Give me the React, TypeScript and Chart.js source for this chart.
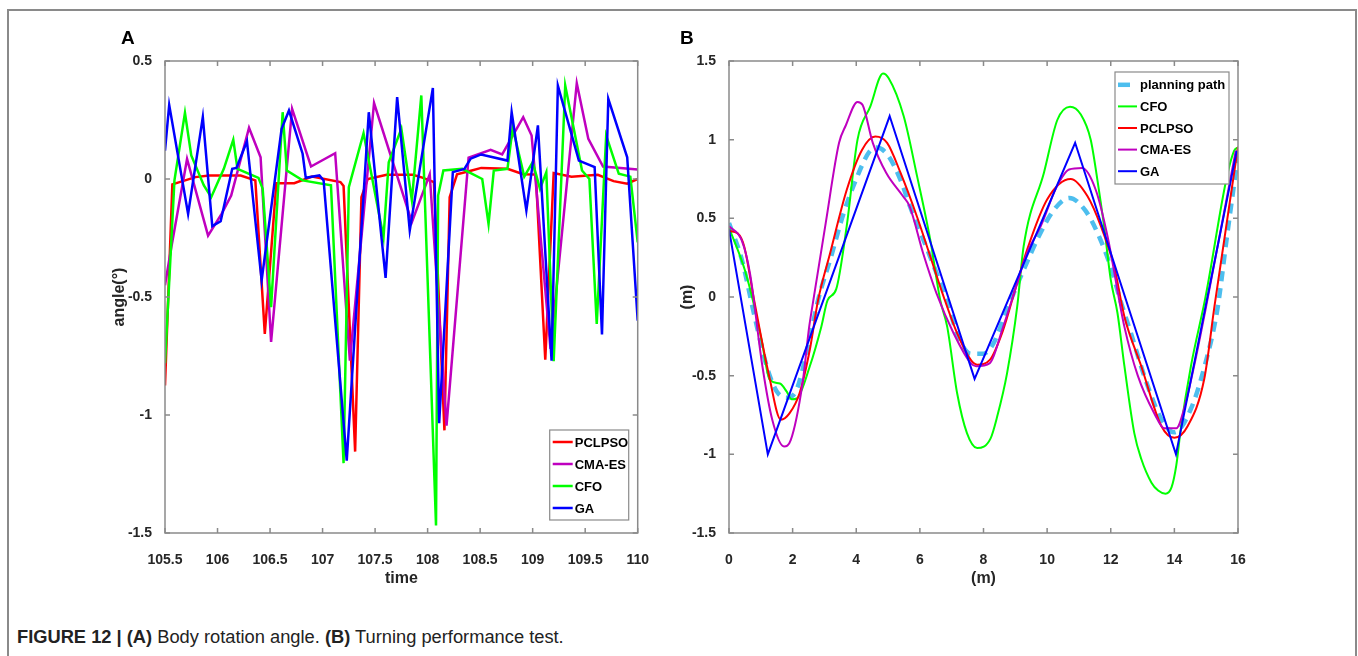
import React, { useEffect, useRef } from "react";
import { Chart, registerables } from "chart.js";

Chart.register(...registerables);

const SANS = "'Liberation Sans', Arial, Helvetica, sans-serif";

const RED = "#ff0000";
const MAGENTA = "#bf00bf";
const GREEN = "#00ff00";
const BLUE = "#0000ff";
const SKY = "#4dbeee";
const FRAME = "#8a8a8a";
const TEXT = "#262626";

// ---------- Panel A : body rotation angle ----------
const xTicksA = [105.5, 106, 106.5, 107, 107.5, 108, 108.5, 109, 109.5, 110];
const yTicksA = [0.5, 0, -0.5, -1, -1.5];

const pclpsoT = [105.5, 105.57, 105.79, 105.92, 106.22, 106.36, 106.45, 106.56, 106.73, 106.9, 107.17, 107.2, 107.31, 107.37, 107.43, 107.61, 107.86, 107.95, 108.06, 108.16, 108.21, 108.28, 108.42, 108.51, 108.76, 108.91, 109.03, 109.12, 109.2, 109.37, 109.62, 109.77, 109.9, 110];
const pclpsoV = [-0.875, -0.023, 0.008, 0.015, 0.015, -0.006, -0.656, -0.018, -0.018, 0.01, -0.013, -0.03, -1.155, -0.077, 0, 0.018, 0.018, 0.006, -0.013, -1.065, -0.077, 0.02, 0.036, 0.047, 0.043, 0.02, 0.019, -0.766, 0.025, 0.01, 0.018, -0.009, -0.02, 0];

const cmaesT = [105.5, 105.56, 105.71, 105.91, 106.04, 106.13, 106.3, 106.41, 106.51, 106.71, 106.89, 107.12, 107.26, 107.49, 107.85, 108.02, 108.18, 108.39, 108.6, 108.71, 108.91, 108.99, 109.17, 109.42, 109.53, 109.67, 110];
const cmaesV = [-0.45, -0.29, 0.085, -0.24, -0.147, -0.07, 0.217, 0.092, -0.69, 0.297, 0.053, 0.109, -0.77, 0.322, -0.183, 0.02, -1.045, 0.09, 0.124, 0.104, 0.262, 0.184, -0.72, 0.406, 0.17, 0.053, 0.04];

const cfoT = [105.5, 105.59, 105.69, 105.75, 105.87, 105.94, 106.01, 106.06, 106.15, 106.19, 106.39, 106.43, 106.51, 106.62, 106.66, 106.81, 107.08, 107.2, 107.25, 107.39, 107.58, 107.63, 107.75, 107.85, 107.94, 108.08, 108.1, 108.15, 108.33, 108.52, 108.58, 108.63, 108.76, 108.81, 108.92, 109.0, 109.07, 109.13, 109.2, 109.31, 109.47, 109.54, 109.61, 109.7, 109.82, 109.93, 110];
const cfoV = [-0.78, -0.006, 0.28, 0.1, -0.027, -0.077, -0.006, 0.043, 0.166, 0.043, 0.005, -0.042, -0.543, 0.283, 0.036, -0.006, -0.027, -1.204, -0.035, 0.194, -0.247, 0.071, 0.213, -0.09, 0.354, -1.468, -0.07, 0.036, 0.043, 0, -0.19, 0.036, 0.043, 0.217, 0.01, 0.071, -0.042, 0.029, -0.772, 0.396, 0.036, 0, -0.614, 0.184, 0.022, 0.01, -0.268];

const gaT = [105.5, 105.54, 105.72, 105.86, 105.95, 106.03, 106.14, 106.18, 106.28, 106.42, 106.61, 106.68, 106.81, 106.84, 106.97, 107.01, 107.23, 107.44, 107.6, 107.71, 107.83, 108.05, 108.11, 108.24, 108.35, 108.41, 108.51, 108.76, 108.8, 108.94, 109.05, 109.18, 109.24, 109.44, 109.59, 109.66, 109.72, 109.9, 110];
const gaV = [0.12, 0.314, -0.148, 0.262, -0.2, -0.179, 0.043, 0.047, 0.16, -0.43, 0.213, 0.29, 0.107, 0.005, 0.015, -0.006, -1.193, 0.283, -0.419, 0.347, -0.218, 0.386, -1.035, 0.029, 0.043, 0.086, 0.104, 0.078, 0.283, -0.133, 0.227, -0.77, 0.396, 0.078, 0.05, -0.659, 0.34, 0.092, -0.6];

// ---------- Panel B : turning performance ----------
const xTicksB = [0, 2, 4, 6, 8, 10, 12, 14, 16];
const yTicksB = [1.5, 1, 0.5, 0, -0.5, -1, -1.5];

const planX = [0, 0.4, 0.8, 1.2, 1.5, 1.8, 2.1, 2.5, 2.8, 3.2, 3.6, 4.0, 4.4, 4.65, 5.0, 5.4, 5.7, 6.1, 6.45, 6.85, 7.2, 7.6, 8.0, 8.3, 8.7, 9.0, 9.3, 9.7, 10.2, 10.7, 11.2, 11.6, 12.0, 12.3, 12.65, 13.1, 13.6, 14.0, 14.5, 14.95, 15.35, 15.65, 16.0];
const planY = [0.47, 0.24, -0.12, -0.45, -0.6, -0.64, -0.6, -0.3, -0.02, 0.25, 0.53, 0.75, 0.92, 0.95, 0.9, 0.74, 0.57, 0.37, 0.19, -0.02, -0.25, -0.36, -0.36, -0.3, -0.1, 0.05, 0.19, 0.37, 0.55, 0.63, 0.55, 0.4, 0.19, -0.02, -0.24, -0.53, -0.78, -0.86, -0.72, -0.44, -0.08, 0.38, 0.9];

const cfoX = [0, 0.35, 0.5, 0.75, 1.02, 1.28, 1.6, 1.81, 1.97, 2.13, 2.54, 2.9, 3.1, 3.37, 3.7, 4.04, 4.44, 4.84, 5.02, 5.49, 5.91, 6.33, 6.64, 6.86, 7.17, 7.48, 7.8, 8.22, 8.43, 8.74, 9.06, 9.26, 9.9, 10.32, 10.72, 11.06, 11.37, 11.58, 11.79, 12.0, 12.21, 12.43, 12.74, 12.96, 13.28, 13.49, 13.72, 13.91, 14.06, 14.2, 14.52, 14.94, 15.88, 16.0];
const cfoY = [0.44, 0.26, 0.17, -0.02, -0.27, -0.525, -0.55, -0.6, -0.65, -0.645, -0.44, -0.19, -0.02, 0.05, 0.45, 1.0, 1.21, 1.42, 1.39, 1.15, 0.77, 0.36, -0.02, -0.19, -0.61, -0.865, -0.96, -0.9, -0.76, -0.485, -0.06, 0.32, 0.79, 1.125, 1.21, 1.16, 1.0, 0.745, 0.45, 0.11, -0.1, -0.44, -0.865, -1.03, -1.18, -1.23, -1.25, -1.21, -1.07, -0.84, -0.44, -0.04, 0.93, 0.95];

const pclX = [0, 0.27, 0.48, 0.79, 1.26, 1.63, 1.9, 2.22, 2.54, 2.8, 3.18, 3.7, 4.18, 4.6, 4.97, 5.39, 5.91, 6.33, 6.75, 7.17, 7.6, 7.8, 8.2, 8.6, 9.0, 9.37, 10.0, 10.74, 11.27, 11.69, 12.11, 12.43, 12.96, 13.59, 14.0, 14.42, 14.94, 15.26, 16.0];
const pclY = [0.42, 0.405, 0.32, -0.02, -0.5, -0.78, -0.74, -0.61, -0.335, -0.02, 0.28, 0.68, 0.935, 1.02, 0.98, 0.79, 0.51, 0.256, 0.0, -0.23, -0.4, -0.43, -0.4, -0.22, 0.05, 0.3, 0.62, 0.75, 0.64, 0.45, 0.19, -0.125, -0.44, -0.82, -0.895, -0.82, -0.52, -0.06, 0.955];

const cmaX = [0, 0.4, 0.66, 1.05, 1.36, 1.73, 1.94, 2.31, 2.52, 2.62, 3.04, 3.46, 3.67, 4.04, 4.2, 4.52, 4.94, 5.47, 5.68, 6.1, 6.52, 7.06, 7.6, 7.77, 8.2, 8.6, 9.0, 9.37, 9.8, 10.3, 10.69, 11.1, 11.53, 11.9, 12.43, 12.85, 13.37, 13.69, 14.06, 14.32, 14.64, 14.96, 15.93];
const cmaY = [0.45, 0.36, 0.15, -0.44, -0.78, -0.95, -0.91, -0.55, -0.19, -0.06, 0.47, 0.98, 1.09, 1.24, 1.22, 0.98, 0.79, 0.64, 0.575, 0.28, 0.025, -0.23, -0.42, -0.44, -0.42, -0.2, 0.05, 0.28, 0.45, 0.7, 0.81, 0.82, 0.68, 0.385, -0.19, -0.5, -0.74, -0.835, -0.835, -0.7, -0.42, -0.1, 0.93];

const gaX = [0, 1.22, 5.05, 7.72, 10.88, 14.05, 15.96];
const gaY = [0.43, -1.0, 1.15, -0.52, 0.98, -1.0, 0.93];

const xy = (xs: number[], ys: number[]) => xs.map((x, i) => ({ x, y: ys[i] }));

const framePlugin = {
  id: "matlabFrame",
  afterDatasetsDraw(chart: any, _args: any, opts: any) {
    const { ctx, chartArea: a, scales } = chart;
    ctx.save();
    ctx.strokeStyle = opts.color;
    ctx.lineWidth = opts.width;
    ctx.strokeRect(a.left, a.top, a.right - a.left, a.bottom - a.top);
    const L = opts.tick;
    ctx.beginPath();
    scales.x.ticks.forEach((t: any) => {
      const p = scales.x.getPixelForValue(t.value);
      ctx.moveTo(p, a.bottom);
      ctx.lineTo(p, a.bottom - L);
      ctx.moveTo(p, a.top);
      ctx.lineTo(p, a.top + L);
    });
    scales.y.ticks.forEach((t: any) => {
      const p = scales.y.getPixelForValue(t.value);
      ctx.moveTo(a.left, p);
      ctx.lineTo(a.left + L, p);
      ctx.moveTo(a.right, p);
      ctx.lineTo(a.right - L, p);
    });
    ctx.stroke();
    ctx.restore();
  },
};

const boxLegendPlugin = {
  id: "boxLegend",
  afterDraw(chart: any, _args: any, opts: any) {
    const { ctx, chartArea: a } = chart;
    const ds = chart.data.datasets;
    const order: number[] = opts.order;
    const h = opts.rowH * order.length + opts.padY * 2;
    const left = a.right - opts.right - opts.width;
    const top = opts.top != null ? a.top + opts.top : a.bottom - opts.bottom - h;
    ctx.save();
    ctx.fillStyle = "#ffffff";
    ctx.fillRect(left, top, opts.width, h);
    ctx.strokeStyle = FRAME;
    ctx.lineWidth = 1.2;
    ctx.strokeRect(left, top, opts.width, h);
    ctx.font = opts.font;
    ctx.textBaseline = "middle";
    ctx.textAlign = "left";
    order.forEach((idx, i) => {
      const d = ds[idx];
      const y = top + opts.padY + opts.rowH * (i + 0.5);
      ctx.strokeStyle = d.borderColor;
      ctx.lineWidth = d.borderWidth;
      ctx.setLineDash(d.legendDash || []);
      ctx.beginPath();
      ctx.moveTo(left + opts.sampleX0, y);
      ctx.lineTo(left + opts.sampleX1, y);
      ctx.stroke();
      ctx.setLineDash([]);
      ctx.fillStyle = "#000000";
      ctx.fillText(d.label, left + opts.textX, y + 1);
    });
    ctx.restore();
  },
};

const tickFont = { family: SANS, size: 14, weight: "bold" as const };
const titleFont = { family: SANS, size: 16, weight: "bold" as const, lineHeight: 1.2 };

function axes(xTicks: number[], yTicks: number[], yWidth: number, yTitlePad: number, xTitle: string, yTitle: string) {
  return {
    x: {
      type: "linear",
      min: xTicks[0],
      max: xTicks[xTicks.length - 1],
      afterBuildTicks: (s: any) => { s.ticks = xTicks.map((v) => ({ value: v })); },
      afterFit: (s: any) => { s.height = 57; },
      grid: { display: false },
      border: { display: false },
      ticks: { autoSkip: false, maxRotation: 0, padding: 11, color: TEXT, font: tickFont, callback: (v: any) => String(v) },
      title: { display: true, text: xTitle, color: TEXT, font: titleFont, padding: { top: 0, bottom: 2 } },
    },
    y: {
      type: "linear",
      min: yTicks[yTicks.length - 1],
      max: yTicks[0],
      afterBuildTicks: (s: any) => { s.ticks = yTicks.slice().reverse().map((v) => ({ value: v })); },
      afterFit: (s: any) => { s.width = yWidth; },
      grid: { display: false },
      border: { display: false },
      ticks: { autoSkip: false, padding: 5, color: TEXT, font: tickFont, callback: (v: any) => String(v) },
      title: { display: true, text: yTitle, color: TEXT, font: titleFont, padding: { top: yTitlePad, bottom: 0 } },
    },
  };
}

function configA(): any {
  const line = (label: string, xs: number[], ys: number[], color: string, order: number) => ({
    label, data: xy(xs, ys), borderColor: color, backgroundColor: color, borderWidth: 2.5,
    pointRadius: 0, tension: 0, fill: false, order,
  });
  return {
    type: "line",
    data: {
      datasets: [
        line("PCLPSO", pclpsoT, pclpsoV, RED, 3),
        line("CMA-ES", cmaesT, cmaesV, MAGENTA, 2),
        line("CFO", cfoT, cfoV, GREEN, 1),
        line("GA", gaT, gaV, BLUE, 0),
      ],
    },
    options: {
      animation: false,
      responsive: false,
      events: [],
      layout: { padding: { left: 106, top: 61, right: 9, bottom: 10 } },
      plugins: {
        legend: { display: false },
        tooltip: { enabled: false },
        matlabFrame: { color: FRAME, width: 1.5, tick: 5 },
        boxLegend: {
          order: [0, 1, 2, 3], right: 9, bottom: 13, width: 79, rowH: 22, padY: 1,
          sampleX0: 3, sampleX1: 23, textX: 25, font: `bold 13px ${SANS}`,
        },
      },
      scales: axes(xTicksA, yTicksA, 59, 4, "time", "angle(°)"),
    },
    plugins: [framePlugin, boxLegendPlugin],
  };
}

function configB(): any {
  const line = (label: string, xs: number[], ys: number[], color: string, order: number, width = 2) => ({
    label, data: xy(xs, ys), borderColor: color, backgroundColor: color, borderWidth: width,
    pointRadius: 0, cubicInterpolationMode: "monotone", fill: false, order,
  });
  const plan: any = line("planning path", planX, planY, SKY, 4, 4.5);
  plan.borderDash = [10, 7];
  plan.legendDash = [12, 30];
  const ga: any = line("GA", gaX, gaY, BLUE, 0);
  ga.cubicInterpolationMode = "default";
  ga.tension = 0;
  return {
    type: "line",
    data: {
      datasets: [
        plan,
        line("CFO", cfoX, cfoY, GREEN, 3),
        line("PCLPSO", pclX, pclY, RED, 2),
        line("CMA-ES", cmaX, cmaY, MAGENTA, 1),
        ga,
      ],
    },
    options: {
      animation: false,
      responsive: false,
      events: [],
      layout: { padding: { left: 13, top: 61, right: 120, bottom: 10 } },
      plugins: {
        legend: { display: false },
        tooltip: { enabled: false },
        matlabFrame: { color: FRAME, width: 1.5, tick: 5 },
        boxLegend: {
          order: [0, 1, 2, 3, 4], top: 11, right: 9, width: 114, rowH: 21.6, padY: 2,
          sampleX0: 3, sampleX1: 22, textX: 25, font: `bold 13px ${SANS}`,
        },
      },
      scales: axes(xTicksB, yTicksB, 56, 5, "(m)", "(m)"),
    },
    plugins: [framePlugin, boxLegendPlugin],
  };
}

function ChartCanvas({ make, left, width, height }: { make: () => any; left: number; width: number; height: number }) {
  const ref = useRef<HTMLCanvasElement>(null);
  useEffect(() => {
    const chart = new Chart(ref.current as HTMLCanvasElement, make());
    return () => chart.destroy();
  }, [make]);
  return (
    <canvas
      ref={ref}
      width={width}
      height={height}
      style={{ position: "absolute", left, top: 0, width, height }}
    />
  );
}

export default function App() {
  return (
    <div style={{ position: "fixed", left: 0, top: 0, width: 1358, height: 656, background: "#fff", overflow: "hidden" }}>
      <div style={{ position: "absolute", left: 7, top: 9, width: 1346, height: 700, border: `2px solid ${FRAME}`, borderBottom: "none" }} />
      <ChartCanvas make={configA} left={0} width={660} height={600} />
      <ChartCanvas make={configB} left={660} width={698} height={600} />
      <div style={{ position: "absolute", left: 121, top: 27, font: `bold 19px ${SANS}`, color: "#000" }}>A</div>
      <div style={{ position: "absolute", left: 680, top: 27, font: `bold 19px ${SANS}`, color: "#000" }}>B</div>
      <div style={{ position: "absolute", left: 17, top: 626, font: `18.3px ${SANS}`, color: "#222", whiteSpace: "nowrap" }}>
        <b>FIGURE 12 | (A)</b> Body rotation angle. <b>(B)</b> Turning performance test.
      </div>
    </div>
  );
}
